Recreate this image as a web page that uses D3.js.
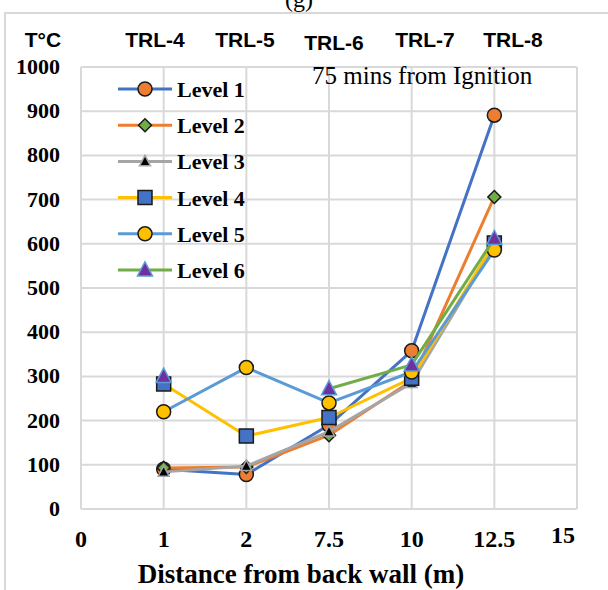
<!DOCTYPE html>
<html>
<head>
<meta charset="utf-8">
<script src="https://cdn.jsdelivr.net/npm/d3@7"></script>
<style>
  body { margin: 0; background: #fff; }
  svg { display: block; }
</style>
</head>
<body>
<div id="chart"></div>
<script>
// distances (category labels) and their slot on the axis
const categories = ["1", "2", "7.5", "10", "12.5"];
const axisLabels = ["0", "1", "2", "7.5", "10", "12.5", "15"];
const trlLabels = ["TRL-4", "TRL-5", "TRL-6", "TRL-7", "TRL-8"];
const yTicks = [0, 100, 200, 300, 400, 500, 600, 700, 800, 900, 1000];

const level1 = [90, 78, 190, 358, 891];
const level2 = [93, 95, 167, 290, 706];
const level3 = [84, 97, 175, 285, 596];
const level4 = [283, 165, 207, 296, 602];
const level5 = [220, 320, 240, 310, 586];
const level6 = [300, null, 272, 326, 612];

const series = [
  { name: "Level 1", values: level1, line: "#4472C4", shape: "circle", fill: "#ED7D31", stroke: "#1a1a1a", size: 7 },
  { name: "Level 2", values: level2, line: "#ED7D31", shape: "diamond", fill: "#70AD47", stroke: "#1a1a1a", size: 6.5 },
  { name: "Level 3", values: level3, line: "#A5A5A5", shape: "triangle", fill: "#000", stroke: "#A5A5A5", size: 5.5 },
  { name: "Level 4", values: level4, line: "#FFC000", shape: "square", fill: "#4472C4", stroke: "#1a1a1a", size: 7 },
  { name: "Level 5", values: level5, line: "#5B9BD5", shape: "circle", fill: "#FFC000", stroke: "#1a1a1a", size: 7 },
  { name: "Level 6", values: level6, line: "#70AD47", shape: "triangle", fill: "#7030A0", stroke: "#5B9BD5", size: 7.5 }
];

const W = 608, H = 590;
const plot = { left: 81, right: 577, top: 67, bottom: 509 };
const serif = "Liberation Serif, 'Times New Roman', serif";
const sans = "Liberation Sans, Arial, sans-serif";

const svg = d3.select("#chart").append("svg")
  .attr("width", W).attr("height", H);

const x = d3.scaleLinear().domain([0, 6]).range([plot.left, plot.right]);
const y = d3.scaleLinear().domain([0, 1000]).range([plot.bottom, plot.top]);

// outer frame
svg.append("path")
  .attr("d", `M5,${H} L5,13 L${W},13`)
  .attr("fill", "none").attr("stroke", "#d9d9d9").attr("stroke-width", 2);

// panel letter, cut by the top edge as in the source
svg.append("text").attr("x", 299).attr("y", 7)
  .attr("text-anchor", "middle")
  .style("font-family", serif).style("font-size", "24px")
  .text("(g)");

// grid
const grid = svg.append("g").attr("stroke", "#d9d9d9").attr("stroke-width", 2);
yTicks.forEach(t => {
  grid.append("line").attr("x1", plot.left).attr("x2", plot.right)
    .attr("y1", y(t)).attr("y2", y(t));
});
d3.range(7).forEach(i => {
  grid.append("line").attr("x1", x(i)).attr("x2", x(i))
    .attr("y1", plot.top).attr("y2", plot.bottom);
});

// y tick labels
svg.append("g").selectAll("text").data(yTicks).join("text")
  .attr("x", 60).attr("y", d => y(d) + 7)
  .attr("text-anchor", "end")
  .style("font-family", serif).style("font-weight", "bold").style("font-size", "22px")
  .text(d => d);

// x tick labels
svg.append("g").selectAll("text").data(axisLabels).join("text")
  .attr("x", (d, i) => i === 6 ? x(i) - 14 : x(i))
  .attr("y", (d, i) => i === 6 ? 543 : 547)
  .attr("text-anchor", "middle")
  .style("font-family", serif).style("font-weight", "bold")
  .style("font-size", "24px")
  .text(d => d);

svg.append("text").attr("x", 301).attr("y", 583)
  .attr("text-anchor", "middle")
  .style("font-family", serif).style("font-weight", "bold").style("font-size", "27px")
  .text("Distance from back wall (m)");

// top labels
svg.append("text").attr("x", 43).attr("y", 47)
  .attr("text-anchor", "middle")
  .style("font-family", sans).style("font-weight", "bold").style("font-size", "21px")
  .text("T°C");
const trlX = [155, 245, 334, 425, 513];
const trlY = [47, 47, 50, 47, 47];
svg.append("g").selectAll("text").data(trlLabels).join("text")
  .attr("x", (d, i) => trlX[i]).attr("y", (d, i) => trlY[i])
  .attr("text-anchor", "middle")
  .style("font-family", sans).style("font-weight", "bold").style("font-size", "21px")
  .text(d => d);

svg.append("text").attr("x", 312).attr("y", 84)
  .style("font-family", serif).style("font-size", "25px")
  .text("75 mins from Ignition");

function markerPath(shape, s) {
  if (shape === "circle") return d3.symbol(d3.symbolCircle, Math.PI * s * s)();
  if (shape === "square") return `M${-s},${-s}H${s}V${s}H${-s}Z`;
  if (shape === "diamond") return `M0,${-s}L${s},0L0,${s}L${-s},0Z`;
  if (shape === "triangle") return `M0,${-s * 1.1}L${s},${s * 0.8}L${-s},${s * 0.8}Z`;
}

const line = d3.line()
  .defined(d => d.v !== null)
  .x(d => x(d.i + 1)).y(d => y(d.v));

series.forEach(s => {
  const pts = s.values.map((v, i) => ({ v, i }));
  const g = svg.append("g");
  g.append("path").datum(pts)
    .attr("d", line)
    .attr("fill", "none").attr("stroke", s.line).attr("stroke-width", 3)
    .attr("stroke-linejoin", "round");
  g.selectAll("path.m").data(pts.filter(d => d.v !== null)).join("path")
    .attr("class", "m")
    .attr("transform", d => `translate(${x(d.i + 1)},${y(d.v)})`)
    .attr("d", markerPath(s.shape, s.size))
    .attr("fill", s.fill).attr("stroke", s.stroke).attr("stroke-width", 1.5);
});

// legend
const legend = svg.append("g");
series.forEach((s, i) => {
  const ly = 89 + i * 36.2;
  legend.append("line").attr("x1", 118).attr("x2", 172).attr("y1", ly).attr("y2", ly)
    .attr("stroke", s.line).attr("stroke-width", 3);
  legend.append("path").attr("transform", `translate(145,${ly})`)
    .attr("d", markerPath(s.shape, s.size))
    .attr("fill", s.fill).attr("stroke", s.stroke).attr("stroke-width", 1.5);
  legend.append("text").attr("x", 177).attr("y", ly + 8)
    .style("font-family", serif).style("font-weight", "bold").style("font-size", "22px")
    .text(s.name);
});
</script>
</body>
</html>
